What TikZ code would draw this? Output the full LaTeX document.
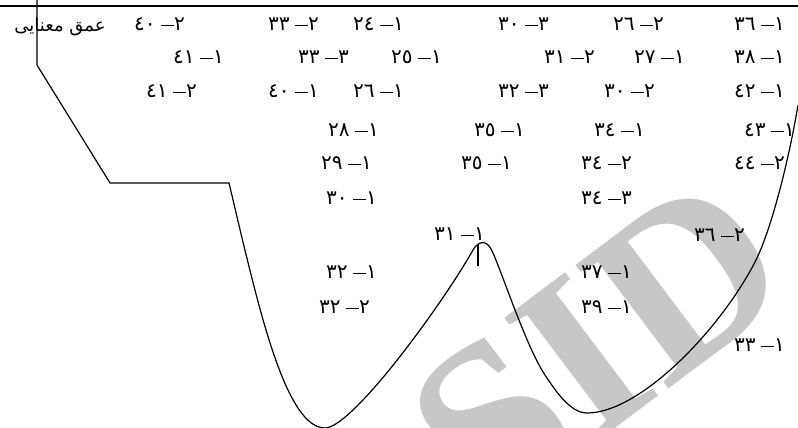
\documentclass[tikz,border=0pt]{standalone}
\usepackage{fontspec}
\TeXXeTstate=1
\newfontfamily\arabicfont[Script=Arabic]{DejaVu Sans}
\newfontfamily\digfont{DejaVu Sans}
\newfontfamily\wmfont{Liberation Serif}
\newcommand\lb[2]{#1\hspace{5pt}\rule[4.5pt]{13pt}{0.9pt}\hspace{0.5pt}#2}
\tikzset{
  lab/.style={font=\digfont\fontsize{20}{20}\selectfont, inner sep=0pt, anchor=east},
  curve/.style={line width=1.2pt, line join=miter},
}
\begin{document}
\begin{tikzpicture}[x=1pt,y=-1pt]
\useasboundingbox (0,0) rectangle (798,428);
% watermark
\node[text=black!22, font=\wmfont\bfseries\fontsize{236}{236}\selectfont, rotate=37, inner sep=0pt] (wm) at (598,346) {SID};
% top rule
\draw[line width=1.5pt] (0,6) -- (798,6);
% profile
\draw[curve] (37,0) -- (37,65) -- (110,183) -- (229,183) -- (242,238)
  .. controls (262,320) and (288,428) .. (325,428)
  .. controls (352,428) and (442,305) .. (473,250)
  .. controls (477,243) and (485,238) .. (491,249)
  .. controls (499,263) and (525,345) .. (545,375)
  .. controls (555,390) and (570,413) .. (587,413)
  .. controls (640,413) and (720,330) .. (755,262)
  .. controls (770,233) and (788,165) .. (798,105);
\draw[line width=1.2pt] (478,244) -- (478,266);
% left title
\node[font=\arabicfont\fontsize{18}{18}\selectfont, inner sep=0pt] (title) at (60,27) {\beginR عمق معنایی\endR};
% row 1
\node[lab] (a1) at (185,24) {\lb{٤٠}{٢}};
\node[lab] (a2) at (319,24) {\lb{٣٣}{٢}};
\node[lab] (a3) at (404,24) {\lb{٢٤}{١}};
\node[lab] (a4) at (549,24) {\lb{٣٠}{٣}};
\node[lab] (a5) at (664,24) {\lb{٢٦}{٢}};
\node[lab] (a6) at (785,24) {\lb{٣٦}{١}};
% row 2
\node[lab] (b1) at (224,57) {\lb{٤١}{١}};
\node[lab] (b2) at (349,57) {\lb{٣٣}{٣}};
\node[lab] (b3) at (442,57) {\lb{٢٥}{١}};
\node[lab] (b4) at (595,57) {\lb{٣١}{٢}};
\node[lab] (b5) at (685,57) {\lb{٢٧}{١}};
\node[lab] (b6) at (785,57) {\lb{٣٨}{١}};
% row 3
\node[lab] (c1) at (197,91) {\lb{٤١}{٢}};
\node[lab] (c2) at (319,91) {\lb{٤٠}{١}};
\node[lab] (c3) at (404,91) {\lb{٢٦}{١}};
\node[lab] (c4) at (549,91) {\lb{٣٢}{٣}};
\node[lab] (c5) at (655,91) {\lb{٣٠}{٢}};
\node[lab] (c6) at (785,91) {\lb{٤٢}{١}};
% row 4
\node[lab] (d1) at (379,130) {\lb{٢٨}{١}};
\node[lab] (d2) at (525,130) {\lb{٣٥}{١}};
\node[lab] (d3) at (645,130) {\lb{٣٤}{١}};
\node[lab] (d4) at (795,130) {\lb{٤٣}{١}};
% row 5
\node[lab] (e1) at (372,163) {\lb{٢٩}{١}};
\node[lab] (e2) at (512,163) {\lb{٣٥}{١}};
\node[lab] (e3) at (632,163) {\lb{٣٤}{٢}};
\node[lab] (e4) at (785,163) {\lb{٤٤}{٢}};
% row 6
\node[lab] (f1) at (377,198) {\lb{٣٠}{١}};
\node[lab] (f2) at (632,198) {\lb{٣٤}{٣}};
% row 7
\node[lab] (g1) at (485,234) {\lb{٣١}{١}};
\node[lab] (g2) at (745,235) {\lb{٣٦}{٢}};
% row 8
\node[lab] (h1) at (377,272) {\lb{٣٢}{١}};
\node[lab] (h2) at (632,272) {\lb{٣٧}{١}};
% row 9
\node[lab] (i1) at (370,307) {\lb{٣٢}{٢}};
\node[lab] (i2) at (632,307) {\lb{٣٩}{١}};
% row 10
\node[lab] (j1) at (785,345) {\lb{٣٣}{١}};
\end{tikzpicture}
\end{document}
